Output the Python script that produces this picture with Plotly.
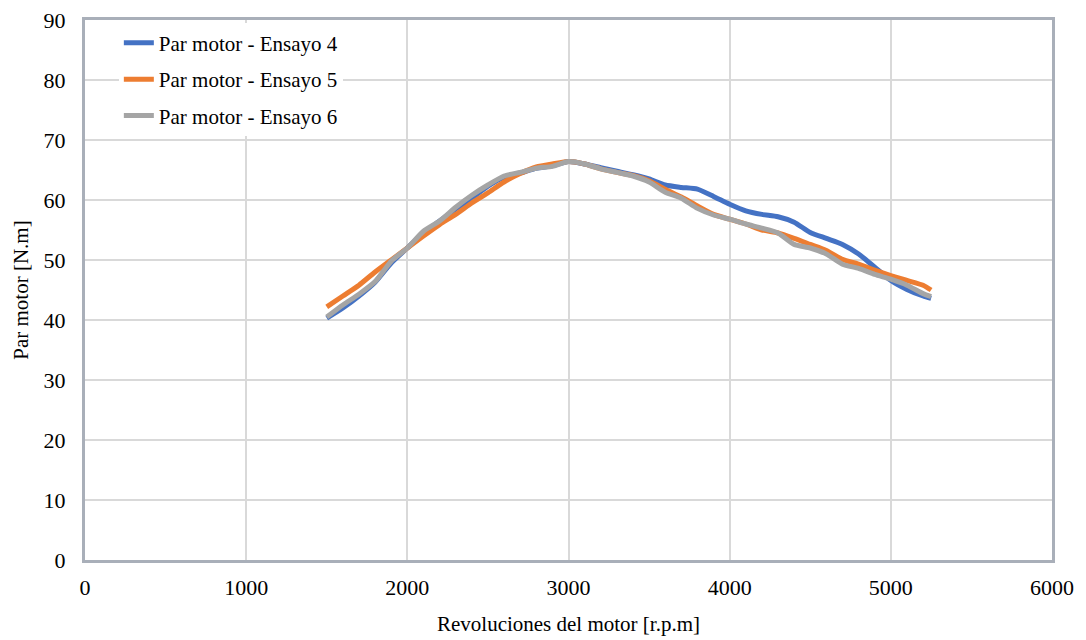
import plotly.graph_objects as go

rpm = [1500, 1600, 1700, 1800, 1900, 2000, 2100, 2200, 2300, 2400, 2500,
       2600, 2700, 2800, 2900, 3000, 3100, 3200, 3300, 3400, 3500, 3600,
       3700, 3800, 3900, 4000, 4100, 4200, 4300, 4400, 4500, 4600, 4700,
       4800, 4900, 5000, 5100, 5200, 5250]

par_ensayo_4 = [40.3, 42.0, 44.0, 46.3, 49.5, 52.0, 54.5, 56.5, 58.5, 60.3, 62.3,
                63.8, 64.5, 65.3, 65.7, 66.4, 66.0, 65.4, 64.8, 64.2, 63.5, 62.5,
                62.1, 61.8, 60.6, 59.3, 58.2, 57.6, 57.2, 56.3, 54.6, 53.6, 52.6,
                51.0, 48.8, 46.6, 45.1, 44.0, 43.6]

par_ensayo_5 = [42.2, 44.0, 45.8, 48.0, 50.0, 52.0, 54.0, 55.9, 57.6, 59.5, 61.2,
                63.0, 64.4, 65.5, 66.0, 66.4, 66.0, 65.2, 64.6, 64.1, 63.2, 61.8,
                60.5, 59.0, 57.6, 56.8, 56.0, 55.0, 54.5, 53.6, 52.6, 51.6, 50.1,
                49.3, 48.3, 47.4, 46.6, 45.8, 45.0]

par_ensayo_6 = [40.5, 42.5, 44.3, 46.4, 49.8, 52.0, 54.8, 56.5, 58.8, 60.8, 62.5,
                64.0, 64.6, 65.3, 65.6, 66.4, 66.0, 65.2, 64.6, 64.0, 63.0, 61.3,
                60.3, 58.6, 57.5, 56.8, 56.0, 55.3, 54.5, 52.6, 52.0, 51.0, 49.3,
                48.6, 47.6, 46.8, 45.8, 44.4, 43.9]

series = [
    ("Par motor - Ensayo 4", par_ensayo_4, "#4472C4"),
    ("Par motor - Ensayo 5", par_ensayo_5, "#ED7D31"),
    ("Par motor - Ensayo 6", par_ensayo_6, "#A5A5A5"),
]

FONT = "Liberation Serif"

fig = go.Figure()
for name, values, color in series:
    fig.add_trace(go.Scatter(
        x=rpm, y=values, name=name, mode="lines", legendgroup=name,
        line={"color": color, "width": 5, "shape": "spline", "smoothing": 0.6},
    ))

axis_common = dict(
    showline=True, linecolor="#A9AFB9", linewidth=3, mirror=True,
    showgrid=True, gridcolor="#D9D9D9", gridwidth=1.5,
    zeroline=False, ticks="", automargin=False, ticklabeloverflow="allow",
    tickfont={"family": FONT, "size": 22, "color": "#000000"},
)

# the page body has an 8px margin, so the figure is sized to fit inside it
fig.update_layout(
    width=1078, height=632,
    paper_bgcolor="white", plot_bgcolor="white",
    font={"family": FONT, "color": "#000000"},
    margin={"t": 12, "r": 34, "b": 80, "l": 77},
    xaxis=dict(axis_common, range=[0, 6000], dtick=1000, ticklabelstandoff=6,
               title={"text": "Revoluciones del motor [r.p.m]",
                      "font": {"family": FONT, "size": 21}, "standoff": 17}),
    yaxis=dict(axis_common, range=[0, 90], dtick=10, ticklabelstandoff=12,
               title={"text": "Par motor [N.m]",
                      "font": {"family": FONT, "size": 21}, "standoff": 10}),
    legend={
        "x": 0.035, "y": 0.995, "xanchor": "left", "yanchor": "top",
        "bgcolor": "white", "font": {"family": FONT, "size": 21},
        "tracegroupgap": 6,
    },
    showlegend=True,
)

fig.write_html("out.html")
